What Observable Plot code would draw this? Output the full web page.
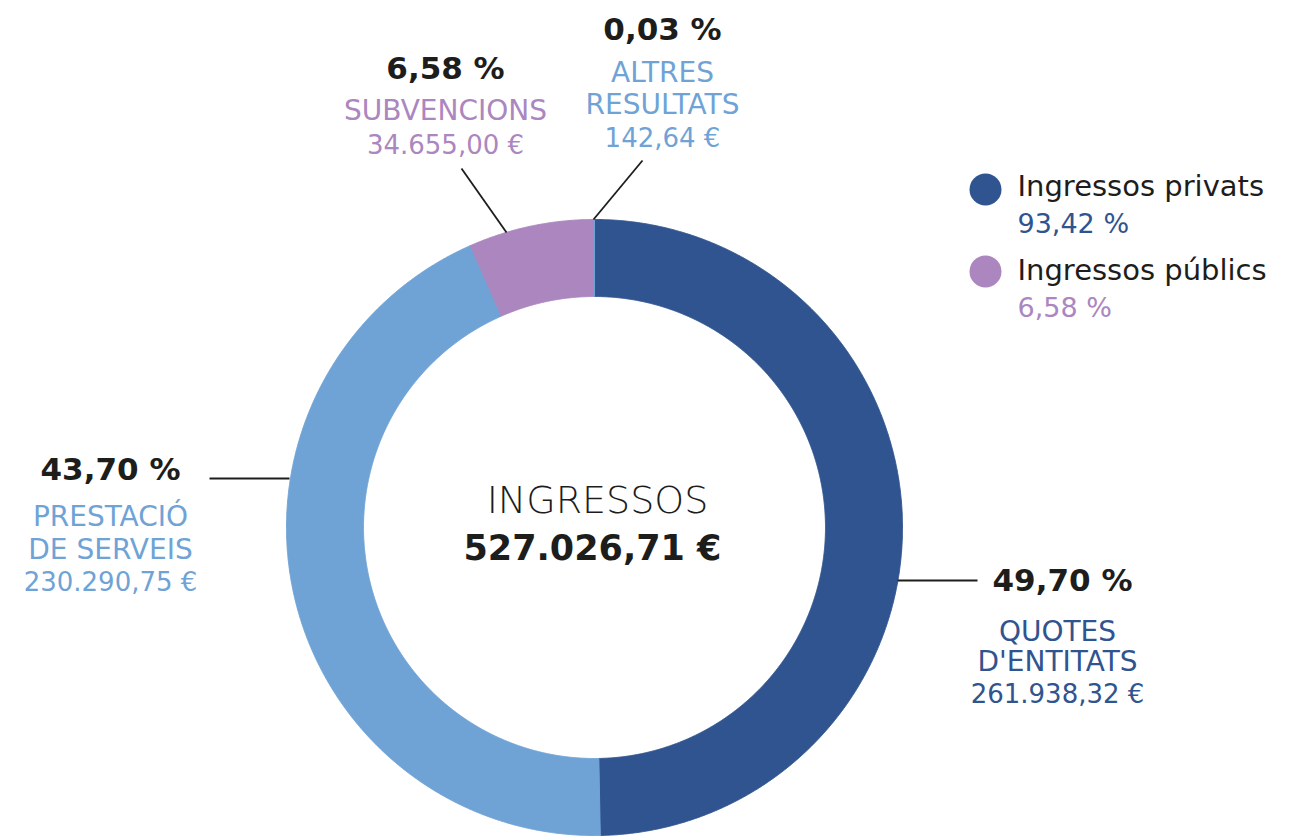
<!DOCTYPE html>
<html><head><meta charset="utf-8">
<script src="https://cdn.jsdelivr.net/npm/d3@7"></script>
<script src="https://cdn.jsdelivr.net/npm/@observablehq/plot@0.6"></script>
<style>body{margin:0;background:#fff} svg{display:block}</style>
</head><body><div id="chart"></div>
<script>
// ---- data ----
const categories = ["QUOTES D'ENTITATS", "PRESTACIÓ DE SERVEIS", "SUBVENCIONS", "ALTRES RESULTATS"];
const categoryLines = [["QUOTES", "D'ENTITATS"], ["PRESTACIÓ", "DE SERVEIS"], ["SUBVENCIONS"], ["ALTRES", "RESULTATS"]];
const values = [261938.32, 230290.75, 34655.00, 142.64];
const percents = ["49,70 %", "43,70 %", "6,58 %", "0,03 %"];
const amounts = ["261.938,32 €", "230.290,75 €", "34.655,00 €", "142,64 €"];
const sliceColors = ["#30548f", "#6fa3d6", "#ab86bf", "#6fa3d6"];
const legendLabels = ["Ingressos privats", "Ingressos públics"];
const legendValues = ["93,42 %", "6,58 %"];
const legendColors = ["#30548f", "#ab86bf"];
const totalLabel = "INGRESSOS";
const totalValue = "527.026,71 €";

// ---- layout (pixels) ----
const W = 1313, H = 838;
const cx = 594, cy = 527, R = 308, R0 = 231;
const labelLayout = [
  {px: 1062, pctY: 590, tx: 1057, ys: [640, 670], amtY: 702, line: [897, 580, 977, 580]},
  {px: 110, pctY: 479, tx: 110, ys: [525, 558], amtY: 590, line: [209, 478, 289, 478]},
  {px: 445, pctY: 78, tx: 445, ys: [119], amtY: 153, line: [461, 168, 506, 232]},
  {px: 662, pctY: 39, tx: 662, ys: [81, 113], amtY: 146, line: [642, 160, 593, 219]}
];
const legendLayout = {dx: 985, tx: 1017, rows: [{dy: 189, ly: 195, vy: 232}, {dy: 271, ly: 279, vy: 316}]};

// ---- build slice polygons from values ----
const total = d3.sum(values);
const pts = [];
let cum = 0;
values.forEach((v, i) => {
  const a0 = cum / total * 2 * Math.PI;
  cum += v;
  const a1 = cum / total * 2 * Math.PI;
  const n = Math.max(2, Math.ceil((a1 - a0) / 0.003));
  const ring = [];
  for (let k = 0; k <= n; k++) { const a = a0 + (a1 - a0) * k / n; ring.push([cx + R * Math.sin(a), cy - R * Math.cos(a)]); }
  for (let k = n; k >= 0; k--) { const a = a0 + (a1 - a0) * k / n; ring.push([cx + R0 * Math.sin(a), cy - R0 * Math.cos(a)]); }
  ring.push(ring[0]);
  ring.forEach(([x, y]) => pts.push({x, y, cat: categories[i]}));
});

const texts = [];
const REG = "DejaVu Sans", BOLD = "DejaVu Sans";
labelLayout.forEach((L, i) => {
  texts.push({x: L.px, y: L.pctY, t: percents[i], s: 31, w: "bold", c: "#1d1d1b", a: "middle"});
  categoryLines[i].forEach((ln, j) => texts.push({x: L.tx, y: L.ys[j], t: ln, s: 28, w: "normal", c: sliceColors[i], a: "middle"}));
  texts.push({x: L.tx, y: L.amtY, t: amounts[i], s: 26, w: "normal", c: sliceColors[i], a: "middle"});
});
legendLabels.forEach((l, i) => {
  const r = legendLayout.rows[i];
  texts.push({x: legendLayout.tx, y: r.ly, t: l, s: 29, w: "normal", c: "#1d1d1b", a: "start"});
  texts.push({x: legendLayout.tx, y: r.vy, t: legendValues[i], s: 27, w: "normal", c: legendColors[i], a: "start"});
});
texts.push({x: 597, y: 512, t: totalLabel, s: 38, w: "200", c: "#1d1d1b", a: "middle"});
texts.push({x: 592, y: 559, t: totalValue, s: 35, w: "bold", c: "#1d1d1b", a: "middle"});

const links = labelLayout.map(L => ({x1: L.line[0], y1: L.line[1], x2: L.line[2], y2: L.line[3]}));
const dots = legendLabels.map((l, i) => ({x: legendLayout.dx, y: legendLayout.rows[i].dy, c: legendColors[i]}));

const textMarks = [];
for (const w of ["normal", "bold", "200"]) for (const a of ["start", "middle"]) {
  const sub = texts.filter(d => d.w === w && d.a === a);
  if (!sub.length) continue;
  textMarks.push(Plot.text(sub, {
    x: "x", y: "y", text: "t", fontSize: d => d.s, fill: d => d.c, textAnchor: a, lineAnchor: "bottom",
    fontWeight: w, fontFamily: w === "bold" ? BOLD : REG
  }));
}

const chart = Plot.plot({
  width: W, height: H, margin: 0,
  x: {type: "linear", domain: [0, W], range: [0, W], axis: null},
  y: {type: "linear", domain: [0, H], range: [0, H], axis: null},
  color: {type: "ordinal", domain: categories, range: sliceColors},
  style: {background: "#fff", fontFamily: REG},
  marks: [
    Plot.line(pts, {x: "x", y: "y", z: "cat", fill: "cat", stroke: "cat", strokeWidth: 1, curve: "linear"}),
    Plot.link(links, {x1: "x1", y1: "y1", x2: "x2", y2: "y2", stroke: "#1d1d1b", strokeWidth: 1.8}),
    Plot.dot(dots, {x: "x", y: "y", r: 16, fill: d => d.c, stroke: null}),
    ...textMarks
  ]
});
document.getElementById("chart").append(chart);
</script></body></html>
